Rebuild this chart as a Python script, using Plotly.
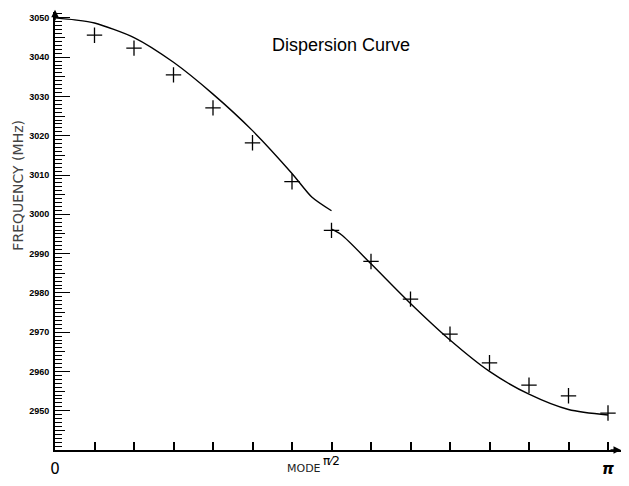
import numpy as np
import plotly.graph_objects as go

PI = np.pi

# measured points (mode index n -> phase n*pi/14)
meas_n = [1, 2, 3, 4, 5, 6, 7, 8, 9, 10, 11, 12, 13, 14]
meas_f = [3045.6, 3042.3, 3035.5, 3027.1, 3018.2, 3008.3, 2995.9,
          2988.0, 2978.4, 2969.5, 2962.2, 2956.5, 2953.8, 2949.4]

# computed curve, branch below pi/2
up_n = [0, 0.5, 1, 2, 3, 4, 5, 6, 6.5, 7]
up_f = [3050.0, 3049.5, 3048.7, 3045.0, 3038.7, 3030.6, 3021.3, 3010.4, 3004.4, 3000.9]
# computed curve, branch above pi/2
lo_n = [7, 7.25, 8, 9, 10, 11, 12, 13, 14]
lo_f = [2996.2, 2994.8, 2987.4, 2977.3, 2968.0, 2960.0, 2954.2, 2950.3, 2948.9]

x_tick_n = list(range(15))
x_tick_text = ["0", "", "", "", "", "", "", "", "", "", "", "", "", "", "<b><i>π</i></b>"]
y_major = list(range(2950, 3051, 10))
y_mid = list(range(2945, 3050, 10))

def ph(ns):
    return [n * PI / 14 for n in ns]

fig = go.Figure()
fig.add_trace(go.Scatter(x=ph(up_n), y=up_f, mode="lines",
                         line=dict(color="black", width=1.4, shape="spline", smoothing=0.7),
                         showlegend=False, hoverinfo="skip"))
fig.add_trace(go.Scatter(x=ph(lo_n), y=lo_f, mode="lines",
                         line=dict(color="black", width=1.4, shape="spline", smoothing=0.8),
                         showlegend=False, hoverinfo="skip"))
fig.add_trace(go.Scatter(x=ph(meas_n), y=meas_f, mode="markers",
                         marker=dict(symbol="cross-thin", size=11, line=dict(color="black", width=1.3)),
                         showlegend=False))
# invisible trace so the secondary y axis (mid ticks) is drawn
fig.add_trace(go.Scatter(x=[0], y=[2945], yaxis="y2", mode="markers",
                         marker=dict(opacity=0), showlegend=False, hoverinfo="skip"))

yr = [2940, 3051.5]
fig.update_layout(
    width=629, height=486,
    margin=dict(l=55, r=8, t=12, b=36),
    paper_bgcolor="white", plot_bgcolor="white",
    xaxis=dict(range=[0, PI * 1.0235], tickmode="array", tickvals=ph(x_tick_n), ticktext=x_tick_text,
               ticks="inside", ticklen=8, tickwidth=1.5, tickcolor="black", ticklabelstandoff=4,
               showline=True, linecolor="black", linewidth=2, showgrid=False, zeroline=False,
               tickfont=dict(family="DejaVu Sans", size=15, color="black")),
    yaxis=dict(range=yr, tickmode="array", tickvals=y_major, ticks="inside", ticklen=15,
               tickwidth=1.2, tickcolor="black", showline=True, linecolor="black", linewidth=2,
               showgrid=False, zeroline=False, ticklabelstandoff=2,
               tickfont=dict(family="Liberation Sans", size=9, color="black", weight="bold"),
               minor=dict(dtick=1, tick0=2940, ticks="inside", ticklen=7, tickwidth=1, tickcolor="black",
                          showgrid=False)),
    yaxis2=dict(range=yr, overlaying="y", side="left", tickmode="array", tickvals=y_mid,
                ticks="inside", ticklen=10, tickwidth=1, tickcolor="black", showticklabels=False,
                showline=False, showgrid=False, zeroline=False),
    annotations=[
        dict(text="Dispersion Curve", xref="paper", yref="paper", x=0.505, y=0.925,
             xanchor="center", yanchor="middle",
             showarrow=False, font=dict(family="Liberation Sans", size=18, color="black")),
        dict(text="FREQUENCY (MHz)", xref="paper", yref="paper", x=-0.066, y=0.605, textangle=-90,
             xanchor="center", yanchor="middle",
             showarrow=False, font=dict(family="DejaVu Sans", size=14, color="#444")),
        dict(text="MODE", xref="paper", yref="paper", x=0.44, y=-0.042, yanchor="middle",
             showarrow=False, font=dict(family="DejaVu Sans", size=11, color="#222")),
        dict(text="π⁄2", xref="x", yref="paper", x=PI / 2, y=-0.025, yanchor="middle",
             showarrow=False, font=dict(family="DejaVu Sans", size=12, color="black")),
        dict(text="", xref="paper", yref="paper", x=1, y=0, ax=-12, ay=0, axref="pixel", ayref="pixel",
             showarrow=True, arrowhead=2, arrowsize=1, arrowwidth=1.5, arrowcolor="black"),
        dict(text="", xref="paper", yref="paper", x=0, y=1.005, ax=0, ay=12, axref="pixel", ayref="pixel",
             showarrow=True, arrowhead=2, arrowsize=1, arrowwidth=1.5, arrowcolor="black"),
    ],
)
fig.write_html("out.html", config={"displayModeBar": False},
               post_script="document.body.style.margin='0';document.body.style.padding='0';")
